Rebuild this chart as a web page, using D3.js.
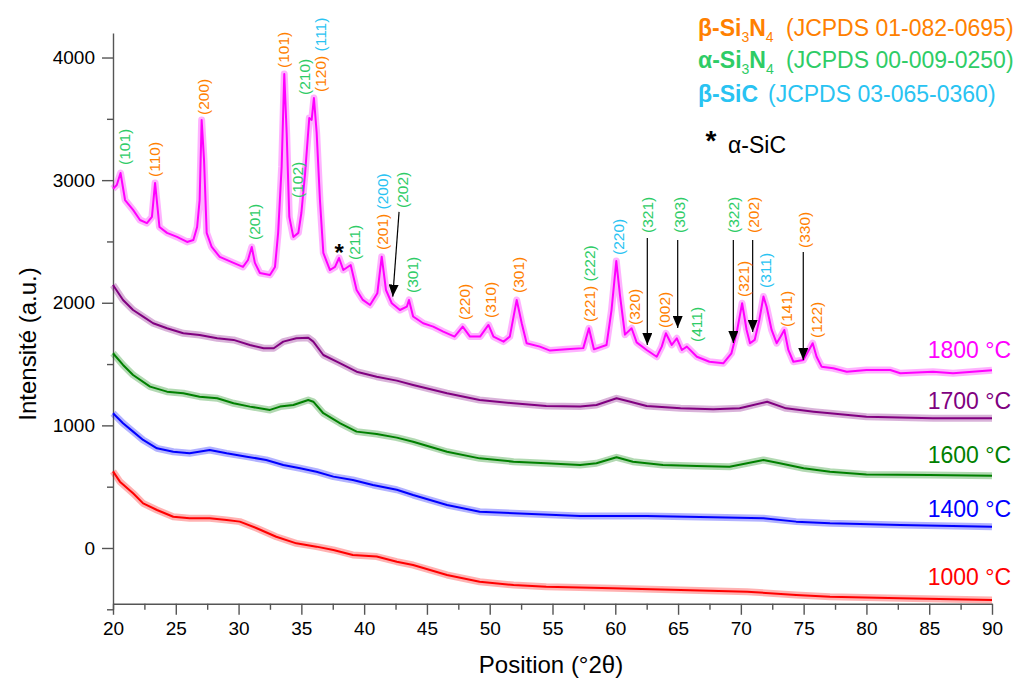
<!DOCTYPE html>
<html><head><meta charset="utf-8">
<script src="https://cdn.jsdelivr.net/npm/d3@7"></script>
<style>
body{margin:0;background:#fff}
svg{display:block;font-family:Arial,"Liberation Sans",sans-serif}
</style>
</head><body>
<svg id="chart" width="1017" height="684"></svg>
<script>
// ---------------- DATA ----------------
const xTicks = [20,25,30,35,40,45,50,55,60,65,70,75,80,85,90];
const xMinorTicks = [22.5,27.5,32.5,37.5,42.5,47.5,52.5,57.5,62.5,67.5,72.5,77.5,82.5,87.5];
const yTicks = [0,1000,2000,3000,4000];
const yMinorTicks = [-500,500,1500,2500,3500];

const seriesNames = ["1000 °C","1400 °C","1600 °C","1700 °C","1800 °C"];

const s1000 = [[20,625],[20.55,541],[21.6,446],[22.4,364],[23.5,310],[24.8,255],[26.1,242],[27.7,242],[29.05,228],[30.1,215],[31.45,161],[33.0,92],[34.6,38],[36.2,11],[37.55,-16],[39.1,-57],[41.0,-70],[42.6,-112],[43.9,-139],[46.6,-220],[49.2,-275],[51.9,-302],[54.5,-316],[59.8,-329],[65.2,-343],[70.5,-356],[74.4,-383],[77.1,-397],[82.7,-410],[90,-424]];

const s1400 = [[20,1099],[20.8,1017],[21.6,949],[22.4,881],[23.5,813],[24.8,785],[26.1,772],[27.7,799],[29.05,772],[30.65,745],[32.2,718],[33.56,677],[34.9,650],[36.2,622],[37.55,582],[39.1,555],[40.7,514],[42.6,475],[43.9,432],[46.6,351],[49.2,296],[51.9,283],[57.2,261],[62.5,261],[67.8,250],[71.8,242],[74.4,215],[77.1,201],[82.7,188],[90,174]];

const s1600 = [[20,1588],[20.8,1493],[21.6,1411],[22.95,1316],[24.3,1275],[25.6,1262],[26.9,1234],[28.3,1221],[29.6,1180],[30.9,1153],[32.5,1126],[33.3,1153],[34.36,1166],[35.55,1207],[35.95,1193],[36.75,1099],[38.1,1017],[39.4,949],[41.0,930],[42.6,900],[43.9,867],[46.6,785],[49.2,731],[51.9,704],[54.5,691],[57.2,677],[58.5,691],[60.1,740],[61.4,704],[63.8,677],[66.5,669],[69.1,663],[70.5,691],[71.8,718],[73.1,691],[75.0,650],[77.1,622],[80,600],[85,595],[90,590]];

const s1700 = [[20,2145],[20.8,2023],[21.6,1941],[22.4,1887],[23.2,1833],[24.3,1792],[25.6,1751],[26.9,1737],[28.3,1710],[29.6,1697],[30.9,1656],[32.0,1629],[32.8,1629],[33.56,1683],[34.6,1710],[35.55,1715],[35.95,1683],[36.75,1574],[38.1,1506],[39.4,1438],[41.0,1397],[42.6,1365],[43.9,1330],[46.6,1262],[49.2,1207],[51.9,1180],[54.5,1158],[57.2,1153],[58.5,1166],[60.1,1221],[61.2,1193],[62.5,1158],[65.2,1139],[67.8,1131],[69.9,1139],[72.1,1193],[73.6,1139],[75.8,1112],[77.1,1099],[80,1071],[85.3,1058],[90,1058]];

const s1800 = [[20,2930],[20.3,2960],[20.6,3058],[20.96,2838],[21.6,2757],[22.15,2675],[22.7,2650],[23.1,2700],[23.35,2977],[23.7,2618],[24.3,2570],[25.1,2537],[25.9,2496],[26.4,2512],[26.7,2618],[26.9,2838],[27.06,3491],[27.25,3165],[27.46,2570],[27.86,2455],[28.5,2374],[29.6,2325],[30.35,2292],[30.75,2349],[31.05,2455],[31.3,2325],[31.7,2243],[32.5,2227],[32.9,2292],[33.15,2570],[33.43,3108],[33.64,3865],[33.83,3385],[34.04,2700],[34.36,2537],[34.76,2570],[35.0,2732],[35.3,3058],[35.63,3507],[35.82,3491],[36.0,3670],[36.22,3385],[36.48,2838],[36.75,2406],[37.28,2267],[37.68,2292],[38.0,2365],[38.34,2267],[38.93,2308],[39.4,2104],[39.9,2023],[40.47,1982],[41.05,2077],[41.4,2376],[41.74,2104],[42.2,1996],[42.85,1941],[43.4,1968],[43.57,2023],[43.9,1888],[44.7,1833],[45.5,1805],[46.3,1764],[47.2,1724],[47.85,1805],[48.43,1724],[49.23,1724],[49.9,1819],[50.3,1724],[51.1,1683],[51.6,1724],[52.15,2023],[52.55,1833],[52.94,1670],[54.0,1642],[54.8,1610],[56.1,1620],[57.45,1630],[57.9,1792],[58.3,1620],[59.3,1655],[59.7,1940],[60.08,2340],[60.37,2065],[60.77,1740],[61.3,1792],[61.7,1677],[62.5,1615],[63.3,1560],[63.7,1642],[64.03,1751],[64.5,1656],[64.9,1710],[65.3,1615],[65.7,1642],[66.5,1560],[67.5,1519],[68.6,1506],[69.25,1588],[69.66,1751],[70.1,1996],[70.46,1778],[70.73,1670],[71.1,1697],[71.47,1860],[71.8,2051],[72.05,1968],[72.45,1778],[72.85,1670],[73.17,1724],[73.46,1778],[73.78,1615],[74.18,1519],[74.98,1533],[75.72,1670],[76.03,1560],[76.43,1479],[77.36,1466],[78.43,1438],[80.0,1452],[81.9,1452],[82.7,1425],[85.3,1438],[86.9,1425],[90,1450]];

const seriesData = [s1000, s1400, s1600, s1700, s1800];

// phase legend
const phaseKeys = ["b","a","c"];
const phaseFormula = [["β-Si","3","N","4"],["α-Si","3","N","4"],["β-SiC"]];
const phaseRefs = ["(JCPDS 01-082-0695)","(JCPDS 00-009-0250)","(JCPDS 03-065-0360)"];
const starLegend = "α-SiC";

// peak labels: [2θ, intensity at label start, parts [text, phase]]
const peakLabels = [
  [20.95,3124,[["(101)","a"]]],
  [23.34,3026,[["(110)","b"]]],
  [27.19,3532,[["(200)","b"]]],
  [31.31,2512,[["(201)","a"]]],
  [33.62,3915,[["(101)","b"]]],
  [34.71,2855,[["(102)","a"]]],
  [35.23,3695,[["(210)","a"]]],
  [36.56,3719,[["(120)","b"],["(111)","c"]]],
  [39.22,2349,[["(211)","a"]]],
  [41.45,2431,[["(201)","b"],["(200)","c"]]],
  [43.07,2773,[["(202)","a"]]],
  [43.84,2080,[["(301)","a"]]],
  [47.98,1860,[["(220)","b"]]],
  [50.08,1876,[["(310)","b"]]],
  [52.28,2080,[["(301)","b"]]],
  [57.93,1843,[["(221)","b"],["(222)","a"]]],
  [60.24,2390,[["(220)","c"]]],
  [61.57,1819,[["(320)","b"]]],
  [62.55,2569,[["(321)","a"]]],
  [63.96,1794,[["(002)","b"]]],
  [65.15,2569,[["(303)","a"]]],
  [66.48,1680,[["(411)","a"]]],
  [69.45,2569,[["(322)","a"]]],
  [70.2,2047,[["(321)","b"]]],
  [71.05,2569,[["(202)","b"]]],
  [72.0,2121,[["(311)","c"]]],
  [73.65,1803,[["(141)","b"]]],
  [75.11,2447,[["(330)","b"]]],
  [76.04,1713,[["(122)","b"]]]
];
// arrows: [2θ start, I start, 2θ end, I end]
const arrows = [
  [42.78,2741,42.28,2050],
  [62.55,2529,62.55,1656],
  [64.97,2512,64.97,1794],
  [69.40,2512,69.40,1672],
  [70.94,2512,70.94,1762],
  [74.97,2414,74.97,1533]
];
// α-SiC marker
const starMarks = [[38.02,2447]];

// ---------------- STYLE ----------------
const seriesColors = ["#FF0000","#0000FF","#008000","#800080","#FF00FF"];
const phaseColors = {b:"#FF8000", a:"#2ECC66", c:"#29C3F2"};

const svg = d3.select("#chart");
const x = d3.scaleLinear().domain([20,90]).range([113,992]);
const y = d3.scaleLinear().domain([-500,4200]).range([609.3,33]);
const xAxisAt = -455;

// axes
const axisColor = "#555";
const gx = svg.append("g").attr("transform",`translate(0,${y(xAxisAt)})`)
  .call(d3.axisBottom(x).tickValues(xTicks).tickSizeInner(11).tickSizeOuter(0).tickPadding(7).tickFormat(d3.format("d")));
const gxm = svg.append("g").attr("transform",`translate(0,${y(xAxisAt)})`)
  .call(d3.axisBottom(x).tickValues(xMinorTicks).tickSize(6).tickFormat(""));
gxm.select(".domain").remove();
const gy = svg.append("g").attr("transform","translate(113,0)")
  .call(d3.axisLeft(y).tickValues(yTicks).tickSizeInner(11).tickSizeOuter(0).tickPadding(7).tickFormat(d3.format("d")));
const gym = svg.append("g").attr("transform","translate(113,0)")
  .call(d3.axisLeft(y).tickValues(yMinorTicks).tickSize(6).tickFormat(""));
gym.select(".domain").remove();
[gx,gxm,gy,gym].forEach(g=>{
  g.selectAll("path,line").attr("stroke",axisColor).attr("stroke-width",1.4);
  g.selectAll("text").attr("font-size",19).attr("fill","#000").attr("font-family","Arial, 'Liberation Sans', sans-serif");
});

svg.append("text").attr("transform","translate(28,344) rotate(-90)")
  .attr("text-anchor","middle").attr("dy","0.35em").attr("font-size",24).text("Intensité (a.u.)");
svg.append("text").attr("x",551).attr("y",673).attr("text-anchor","middle")
  .attr("font-size",24).text("Position (°2θ)");

// curves (wide translucent band beneath evokes the measurement noise width)
const line = d3.line().x(d=>x(d[0])).y(d=>y(d[1]));
seriesData.forEach((s,i)=>{
  svg.append("path").attr("d",line(s)).attr("fill","none")
    .attr("stroke",seriesColors[i]).attr("stroke-width",7).attr("stroke-opacity",0.3).attr("stroke-linejoin","round");
  svg.append("path").attr("d",line(s)).attr("fill","none")
    .attr("stroke",seriesColors[i]).attr("stroke-width",2).attr("stroke-linejoin","round");
});

// temperature labels
const tempBaselines = [585,517,463,409,358];
seriesNames.forEach((n,i)=>{
  svg.append("text").attr("x",1011).attr("y",tempBaselines[i]).attr("text-anchor","end")
    .attr("font-size",23).attr("fill",seriesColors[i]).text(n);
});

// arrows
const defs = svg.append("defs");
defs.append("marker").attr("id","ah").attr("markerUnits","userSpaceOnUse")
  .attr("markerWidth",12).attr("markerHeight",10).attr("refX",12).attr("refY",5)
  .attr("orient","auto").attr("viewBox","0 0 12 10")
  .append("path").attr("d","M0,0 L12,5 L0,10 Z").attr("fill","#000");
arrows.forEach(a=>{
  svg.append("line").attr("x1",x(a[0])).attr("y1",y(a[1])).attr("x2",x(a[2])).attr("y2",y(a[3]))
    .attr("stroke","#000").attr("stroke-width",1.2).attr("marker-end","url(#ah)");
});

// peak labels
peakLabels.forEach(p=>{
  const t = svg.append("text").attr("transform",`translate(${x(p[0])},${y(p[1])}) rotate(-90)`)
    .attr("dy","0.35em").attr("font-size",15.5);
  p[2].forEach((part,k)=>{
    t.append("tspan").attr("fill",phaseColors[part[1]]).text((k>0?" ":"")+part[0]);
  });
});
starMarks.forEach(s=>{
  svg.append("text").attr("x",x(s[0])).attr("y",y(s[1])).attr("dy","0.55em")
    .attr("text-anchor","middle").attr("font-size",24).attr("font-weight","bold").text("*");
});

// phase legend
const legBase = [36,68,101.7];
phaseKeys.forEach((k,i)=>{
  const t = svg.append("text").attr("x",698).attr("y",legBase[i]).attr("font-size",23).attr("fill",phaseColors[k]);
  const f = phaseFormula[i];
  if (f.length===4){
    t.append("tspan").attr("font-weight","bold").text(f[0]);
    t.append("tspan").attr("font-size",14).attr("dy",6).text(f[1]);
    t.append("tspan").attr("font-weight","bold").attr("dy",-6).text(f[2]);
    t.append("tspan").attr("font-size",14).attr("dy",6).text(f[3]);
    t.append("tspan").attr("dy",-6).attr("x",786).text(phaseRefs[i]);
  } else {
    t.append("tspan").attr("font-weight","bold").text(f[0]);
    t.append("tspan").attr("x",768).text(phaseRefs[i]);
  }
});
svg.append("text").attr("x",711).attr("y",135).attr("dy","0.55em").attr("text-anchor","middle")
  .attr("font-size",28).attr("font-weight","bold").text("*");
svg.append("text").attr("x",728).attr("y",153).attr("font-size",23).text(starLegend);
</script>
</body></html>
